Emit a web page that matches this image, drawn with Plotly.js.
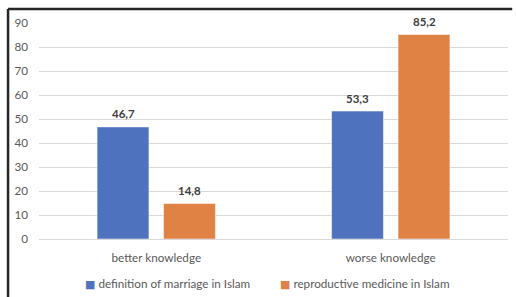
<!DOCTYPE html>
<html>
<head>
<meta charset="utf-8">
<script src="https://cdn.plot.ly/plotly-3.0.1.min.js"></script>
<style>html,body{margin:0;padding:0;background:#fff;}#chart{width:516px;height:297px;}</style>
</head>
<body>
<div id="chart"></div>
<script>
var categories = ["better knowledge", "worse knowledge"];
var seriesNames = ["definition of marriage in Islam", "reproductive medicine in Islam"];
var marriageValues = [46.7, 53.3];
var medicineValues = [14.8, 85.2];
var yTicks = [0, 10, 20, 30, 40, 50, 60, 70, 80, 90];
var colors = ['#4e72be', '#df8244'];

function fmt(v) { return v.toFixed(1).replace('.', ','); }

var fam = "Lato, 'Open Sans', sans-serif";
var fs = 11.7;

var seriesValues = [marriageValues, medicineValues];
var traces = seriesValues.map(function (vals, i) {
  return {type: 'bar', name: seriesNames[i], x: categories, y: vals,
          marker: {color: colors[i], line: {color: '#ffffff', width: 0.5}}, hoverinfo: 'none'};
});

var legendX = [0.0938, 0.5096];
var annotations = seriesNames.map(function (n, i) {
  return {xref: 'paper', yref: 'paper', x: legendX[i], y: -0.208, xanchor: 'left', yanchor: 'middle',
          showarrow: false, align: 'left',
          text: "<span style='color:" + colors[i] + ";font-family:DejaVu Sans;font-size:11px'>■</span> " + n,
          font: {family: fam, size: fs, color: '#595959'}};
});
// value labels
var groupShift = [-33.25, 33.25];
seriesValues.forEach(function (vals, i) {
  vals.forEach(function (v, j) {
    annotations.push({xref: 'x', yref: 'y', x: categories[j], y: v, xshift: groupShift[i], yshift: 13,
                      xanchor: 'center', yanchor: 'middle', showarrow: false, text: '<b>' + fmt(v) + '</b>',
                      font: {family: fam, size: 11.5, color: '#404040'}});
  });
});

var layout = {
  width: 516, height: 297,
  margin: {l: 39, r: 8, t: 23, b: 58, autoexpand: false},
  paper_bgcolor: '#ffffff', plot_bgcolor: '#ffffff',
  font: {family: fam, size: fs, color: '#595959'},
  barmode: 'group', bargap: 0.433, bargroupgap: 0.22,
  showlegend: false,
  annotations: annotations,
  xaxis: {showgrid: false, zeroline: false, showline: false, ticks: '', automargin: false,
          tickfont: {size: fs, color: '#595959'}, ticklabelstandoff: 10},
  yaxis: {range: [0, 90], tickvals: yTicks, ticktext: yTicks.map(String), showgrid: true, gridcolor: '#d9d9d9', gridwidth: 1,
          zeroline: true, zerolinecolor: '#d9d9d9', zerolinewidth: 1, showline: false, ticks: '', automargin: false,
          tickfont: {size: fs, color: '#595959'}, ticklabelstandoff: 10},
  shapes: [
    {type: 'line', xref: 'paper', yref: 'paper', x0: -0.066, x1: 1.009, y0: 1.065, y1: 1.065, line: {color: '#262626', width: 2.5}},
    {type: 'line', xref: 'paper', yref: 'paper', x0: -0.066, x1: -0.066, y0: 1.065, y1: -0.3, line: {color: '#262626', width: 2.5}}
  ]
};

Plotly.newPlot('chart', traces, layout, {staticPlot: true, displayModeBar: false});
</script>
</body>
</html>
